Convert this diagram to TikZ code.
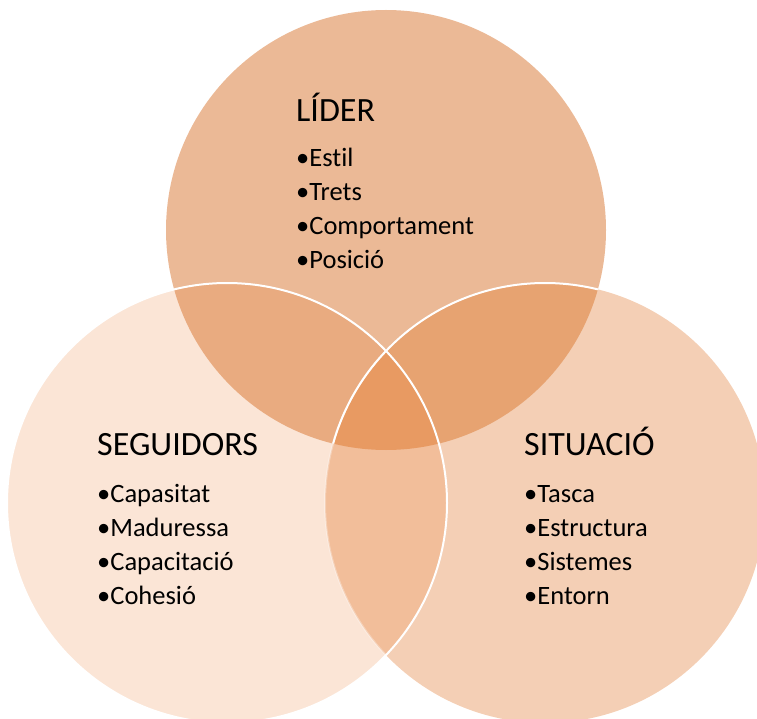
\documentclass[tikz,border=0pt]{standalone}
\usepackage{fontspec}
\setmainfont{Carlito}[Ligatures={NoCommon,NoRequired}]
\definecolor{cT}{HTML}{EBB996}
\definecolor{cL}{HTML}{FBE5D6}
\definecolor{cR}{HTML}{F4CFB5}
\definecolor{cTL}{HTML}{E9AB80}
\definecolor{cTR}{HTML}{E7A371}
\definecolor{cLR}{HTML}{F2BE9A}
\definecolor{cC}{HTML}{E89A62}
\begin{document}
\begin{tikzpicture}[x=1pt,y=-1pt,
  ttl/.style={anchor=base west, inner sep=0pt, font=\fontsize{34}{34}\selectfont},
  itm/.style={anchor=base west, inner sep=0pt, font=\fontsize{26.5}{26.5}\selectfont},
  rim/.style={white, line width=2pt}]
\useasboundingbox (0,0) rectangle (757,719);
\begin{scope}
\clip (0,0) rectangle (757,719);
\coordinate (T) at (386,230);
\coordinate (L) at (227,503);
\coordinate (R) at (545,503);
% single regions
\fill[cT] (T) circle[radius=220pt];
\fill[cR] (R) circle[radius=220pt];
\fill[cL] (L) circle[radius=220pt];
% pairwise
\begin{scope}
  \clip (T) circle[radius=220pt];
  \fill[cTR] (R) circle[radius=220pt];
  \fill[cTL] (L) circle[radius=220pt];
\end{scope}
\begin{scope}
  \clip (L) circle[radius=220pt];
  \fill[cLR] (R) circle[radius=220pt];
  \clip (T) circle[radius=220pt];
  \fill[cC] (R) circle[radius=220pt];
\end{scope}
% outlines
\begin{scope}
  \clip (L) circle[radius=220pt];
  \draw[rim, opacity=0.3] (R) circle[radius=220pt];
\end{scope}
\begin{scope}
  \clip (T) circle[radius=220pt];
  \draw[rim] (R) circle[radius=220pt];
\end{scope}
\draw[rim] (L) circle[radius=220pt];
\end{scope}
% texts
\node[ttl] (lt) at (296,122) {LÍDER};
\node[itm] (l1) at (296,167) {•Estil};
\node[itm] (l2) at (296,201) {•Trets};
\node[itm] (l3) at (296,235) {•Comportament};
\node[itm] (l4) at (296,269) {•Posició};
\node[ttl] (st) at (97,455) {SEGUIDORS};
\node[itm] (s1) at (97,502) {•Capasitat};
\node[itm] (s2) at (97,536) {•Maduressa};
\node[itm] (s3) at (97,570) {•Capacitació};
\node[itm] (s4) at (97,604) {•Cohesió};
\node[ttl] (rt) at (524,455) {SITUACIÓ};
\node[itm] (r1) at (524,502) {•Tasca};
\node[itm] (r2) at (524,536) {•Estructura};
\node[itm] (r3) at (524,570) {•Sistemes};
\node[itm] (r4) at (524,604) {•Entorn};
\end{tikzpicture}
\end{document}
